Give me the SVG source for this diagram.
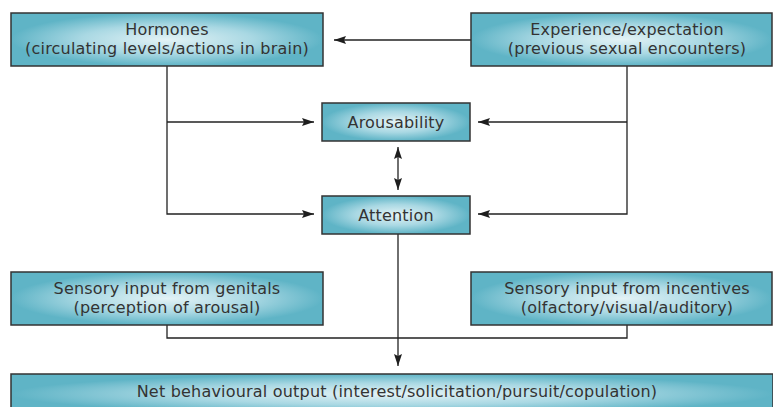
<svg xmlns="http://www.w3.org/2000/svg" width="773" height="407" viewBox="0 0 773 407">
<defs>
<radialGradient id="g" cx="0.5" cy="0.5" r="0.5">
<stop offset="0" stop-color="#e4f3f6"/>
<stop offset="0.55" stop-color="#a9d8e3"/>
<stop offset="1" stop-color="#5fb4c6"/>
</radialGradient>
<marker id="ah" viewBox="0 0 12 10" refX="12" refY="5" markerWidth="12" markerHeight="10" markerUnits="userSpaceOnUse" orient="auto-start-reverse">
<path d="M0,1 L12,5 L0,9 L2,5 Z" fill="#1e1e1e"/>
</marker>
<style>
.box{fill:url(#g);stroke:#333;stroke-width:1.5}
.t{font-family:"DejaVu Sans","Liberation Sans",sans-serif;font-size:16px;letter-spacing:0.2px;fill:#333;text-anchor:middle}
.c{fill:none;stroke:#222;stroke-width:1.3}
</style>
</defs>
<rect width="773" height="407" fill="#fff"/>
<g id="connectors">
<line class="c" x1="471" y1="40" x2="334" y2="40" marker-end="url(#ah)"/>
<polyline class="c" points="167,66 167,214 314,214" marker-end="url(#ah)"/>
<line class="c" x1="167" y1="122" x2="314" y2="122" marker-end="url(#ah)"/>
<polyline class="c" points="627,66 627,214 478,214" marker-end="url(#ah)"/>
<line class="c" x1="627" y1="122" x2="478" y2="122" marker-end="url(#ah)"/>
<line class="c" x1="398" y1="147" x2="398" y2="190" marker-start="url(#ah)" marker-end="url(#ah)"/>
<line class="c" x1="398" y1="234" x2="398" y2="366" marker-end="url(#ah)"/>
<polyline class="c" points="167,325 167,338 627,338 627,325"/>
</g>
<g id="hormones">
<rect class="box" x="11" y="13" width="312" height="53"/>
<text class="t" x="167" y="35">Hormones</text>
<text class="t" x="167" y="54">(circulating levels/actions in brain)</text>
</g>
<g id="experience">
<rect class="box" x="471" y="13" width="301" height="53"/>
<text class="t" x="627" y="35">Experience/expectation</text>
<text class="t" x="627" y="54">(previous sexual encounters)</text>
</g>
<g id="arousability">
<rect class="box" x="322" y="103" width="148" height="38"/>
<text class="t" x="396" y="128">Arousability</text>
</g>
<g id="attention">
<rect class="box" x="322" y="196" width="148" height="38"/>
<text class="t" x="396" y="221">Attention</text>
</g>
<g id="genitals">
<rect class="box" x="11" y="272" width="312" height="53"/>
<text class="t" x="167" y="294">Sensory input from genitals</text>
<text class="t" x="167" y="313">(perception of arousal)</text>
</g>
<g id="incentives">
<rect class="box" x="471" y="272" width="301" height="53"/>
<text class="t" x="627" y="294">Sensory input from incentives</text>
<text class="t" x="627" y="313">(olfactory/visual/auditory)</text>
</g>
<g id="output">
<rect class="box" x="11" y="374" width="762" height="40"/>
<text class="t" x="397" y="397">Net behavioural output (interest/solicitation/pursuit/copulation)</text>
</g>
</svg>
